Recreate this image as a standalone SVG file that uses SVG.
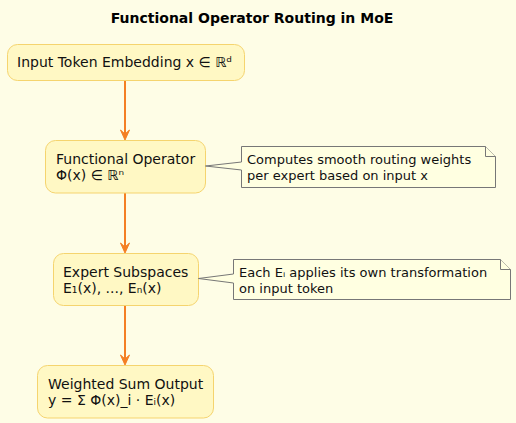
<svg xmlns="http://www.w3.org/2000/svg" width="516" height="423" viewBox="0 0 516 423">
<defs>
<style>
.bg{fill:#FEFDE6}
.node rect{fill:#FFF8C4;stroke:#F5D46E;stroke-width:1}
.t{font-family:"DejaVu Sans",sans-serif;font-size:14px;fill:#111}
.nt{font-family:"DejaVu Sans",sans-serif;font-size:13px;fill:#111}
.title{font-family:"DejaVu Sans",sans-serif;font-size:14px;font-weight:bold;fill:#000}
.note path{fill:#FFFFE1;stroke:#777;stroke-width:1}
.edge{stroke:#F47F24;stroke-width:2;fill:none}
.ah{fill:#F47F24;stroke:#F47F24;stroke-width:1}
</style>
</defs>
<rect class="bg" x="0" y="0" width="516" height="423"/>
<text class="title" x="252" y="23" text-anchor="middle">Functional Operator Routing in MoE</text>

<g id="connectors">
<line class="edge" x1="125" y1="81" x2="125" y2="136"/>
<polygon class="ah" points="120.5,130 125,140 129.5,130 125,134"/>
<line class="edge" x1="125" y1="193" x2="125" y2="249"/>
<polygon class="ah" points="120.5,243 125,253 129.5,243 125,247"/>
<line class="edge" x1="125" y1="305" x2="125" y2="361"/>
<polygon class="ah" points="120.5,355 125,365 129.5,355 125,359"/>
</g>

<g id="n1" class="node">
<rect x="7.5" y="44.5" width="237" height="36" rx="10" ry="10"/>
<text class="t" x="17" y="67">Input Token Embedding x ∈ ℝᵈ</text>
</g>

<g id="n2" class="node">
<rect x="45.5" y="140.5" width="160" height="52.5" rx="10" ry="10"/>
<text class="t" x="56" y="164">Functional Operator</text>
<text class="t" x="56" y="180">Φ(x) ∈ ℝⁿ</text>
</g>

<g id="note1" class="note">
<path d="M241.5,146.5 H485.5 L495.5,156.5 V187.5 H241.5 V170 L205.5,166 L241.5,162 Z"/>
<path d="M485.5,146.5 V156.5 H495.5" fill="none"/>
<text class="nt" x="247" y="164">Computes smooth routing weights</text>
<text class="nt" x="247" y="180">per expert based on input x</text>
</g>

<g id="n3" class="node">
<rect x="53.5" y="253.5" width="145" height="52" rx="10" ry="10"/>
<text class="t" x="63" y="277">Expert Subspaces</text>
<text class="t" x="63" y="293">E₁(x), ..., Eₙ(x)</text>
</g>

<g id="note2" class="note">
<path d="M233.5,259.5 H500.5 L510.5,269.5 V299.5 H233.5 V283 L198.5,278.5 L233.5,274 Z"/>
<path d="M500.5,259.5 V269.5 H510.5" fill="none"/>
<text class="nt" x="239" y="277">Each Eᵢ applies its own transformation</text>
<text class="nt" x="239" y="293">on input token</text>
</g>

<g id="n4" class="node">
<rect x="37.5" y="365.5" width="176" height="52.5" rx="10" ry="10"/>
<text class="t" x="48" y="389">Weighted Sum Output</text>
<text class="t" x="48" y="405">y = Σ Φ(x)_i · Eᵢ(x)</text>
</g>
</svg>
